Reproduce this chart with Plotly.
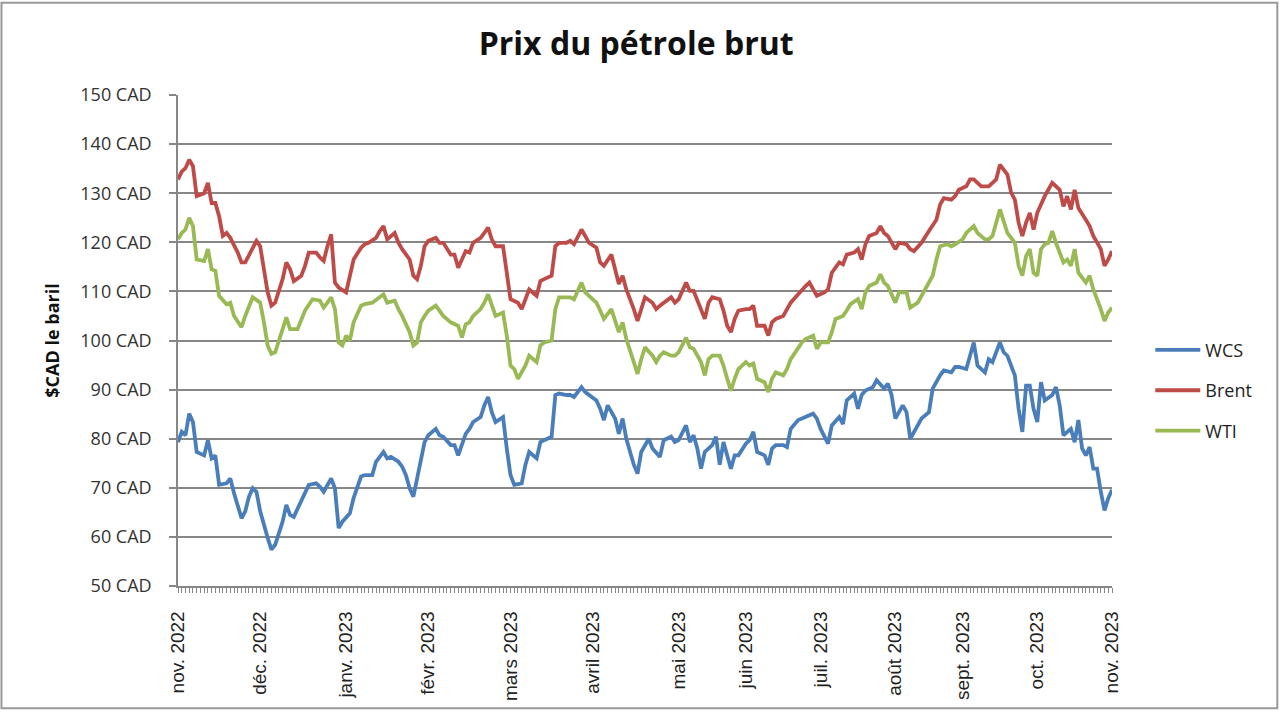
import plotly.graph_objects as go

# ---- Data (trading-day index from nov. 2022) ----
mois_pos = [0, 22, 45, 67, 89, 111, 134, 152, 172, 192, 210, 230, 250]
mois_labels = ["nov. 2022", "déc. 2022", "janv. 2023", "févr. 2023", "mars 2023",
               "avril 2023", "mai 2023", "juin 2023", "juil. 2023", "août 2023",
               "sept. 2023", "oct. 2023", "nov. 2023"]

wcs_jours = [0, 1, 2, 3, 4, 5, 7, 8, 9, 10, 11, 13, 14, 15, 17, 18, 19, 20, 21, 22, 24, 25, 26, 28, 29, 30, 31, 33, 34, 35,
             37, 38, 39, 41, 42, 43, 44, 46, 47, 49, 50, 52, 53, 55, 56, 57, 59, 60, 61, 62, 63,
             65, 66, 67, 69, 70, 71, 73, 74, 75, 77, 78, 79, 81, 82, 83, 84, 85, 87, 88, 89, 90, 92, 93, 94, 96, 97, 98,
             100, 101, 102, 104, 105, 106, 107, 108, 109, 110, 112, 113, 114, 115, 117, 118, 119, 120, 122, 123, 124, 126, 127, 129,
             130, 132, 133, 134, 136, 137, 138, 139, 140, 141, 143, 144, 145, 146, 147, 148, 149, 150, 152, 153, 154, 155, 157, 158,
             159, 160, 162, 163, 164, 166, 167, 168, 170, 171, 172, 174, 175, 177, 178, 179, 181, 182, 183, 184, 186, 187, 189, 190,
             191, 192, 194, 195, 196, 198, 199, 201, 202, 204, 205, 207, 208, 209, 211, 212, 213, 214, 216, 217, 218, 220, 221, 222,
             224, 225, 226, 227, 228, 229, 230, 231, 232, 234, 235, 236, 237, 239, 240, 241, 242, 243, 244, 245, 246, 247, 248, 249, 250]
wcs_prix = [79.3, 81.4, 80.7, 85.1, 83.4, 77.3, 76.6, 79.7, 76.0, 76.6, 70.6, 70.9, 71.9, 68.9, 63.8, 65.2, 68.2, 69.9, 69.2, 65.2,
            59.8, 57.4, 58.4, 63.1, 66.5, 64.5, 64.1, 67.2, 68.9, 70.6, 70.9, 70.2, 69.2, 71.9, 69.9, 61.8, 63.1, 64.8, 67.9, 72.3,
            72.6, 72.6, 75.3, 77.3, 76.0, 76.3, 75.3, 74.3, 72.6, 69.9, 68.2,
            76.0, 79.3, 80.7, 82.0, 80.7, 80.4, 78.7, 78.7, 76.6, 81.0, 82.0, 83.4, 84.4, 86.8, 88.5, 85.4, 83.4, 84.4, 78.0, 72.6,
            70.6, 70.9, 74.7, 77.3, 76.0, 79.3, 79.7, 80.4, 88.9, 89.2, 88.9, 88.9, 88.5, 89.5, 90.5, 89.5, 88.9, 87.8, 86.1, 83.8,
            86.8, 84.1, 81.0, 84.1, 80.0, 74.7, 72.9, 77.3, 80.0, 78.0, 76.3,
            79.7, 80.4, 79.3, 79.7, 82.7, 79.3, 80.7, 78.0, 73.9, 77.3, 78.7, 80.4, 74.7, 79.3, 76.6, 73.9, 76.6, 76.6, 79.0, 79.7,
            81.4, 77.3, 76.6, 74.7, 78.0, 78.7, 78.7, 78.3, 82.0, 83.8, 84.1, 84.4, 85.1, 84.1, 82.0, 79.0, 82.7, 84.4, 83.0, 87.8,
            89.2, 86.1, 88.9, 89.8, 90.5, 91.9, 90.2, 91.2, 88.9, 84.1, 86.8,
            85.4, 80.0, 82.7, 84.1, 85.4, 90.2, 92.9, 93.9, 93.5, 94.6, 94.6, 94.2, 96.9, 99.6, 94.9, 93.5, 96.2, 95.6, 99.6, 97.6,
            96.9, 92.9, 86.1, 81.4, 90.8, 90.8, 86.1, 83.4, 91.5, 87.8, 88.9, 90.5, 86.8, 80.7, 82.0, 79.3, 83.8, 78.0, 76.6, 78.3,
            73.9, 73.9, 69.2, 65.4, 67.9, 69.6]

brent_jours = [0, 1, 2, 3, 4, 5, 7, 8, 9, 10, 11, 12, 13, 14, 16, 17, 18, 20, 21, 22, 23, 24, 25, 26, 28, 29, 30, 31, 33, 34,
               35, 37, 38, 39, 40, 41, 42, 43, 45, 46, 47, 49, 50, 51, 53, 54, 55, 56, 58, 59, 60, 62, 63, 64, 65,
               66, 67, 69, 70, 71, 73, 74, 75, 77, 78, 79, 81, 82, 83, 84, 85, 87, 88, 89, 91, 92, 93, 94, 96, 97, 98, 100,
               101, 102, 104, 105, 106, 107, 108, 109, 110, 112, 113, 114, 116, 117, 118, 119, 120, 122, 123, 124, 125, 127, 128, 129,
               130, 132, 133, 134, 136, 137, 138, 140, 141, 142, 143, 145, 146, 147, 148, 149, 150, 152, 153, 154, 155, 157, 158, 159,
               160, 162, 163, 164, 166, 167, 168, 169, 170, 171, 173, 174, 175, 177, 178, 179, 181, 182, 183, 184, 185, 187, 188, 189,
               190, 192, 193,
               195, 196, 197, 199, 200, 201, 203, 204, 205, 207, 208, 209, 211, 212, 213, 215, 216, 217, 219, 220, 221, 222, 223, 224,
               225, 226, 227, 228, 229, 230, 232, 233, 234, 236, 237, 238, 239, 240, 241, 243, 244, 245, 247, 248, 249, 250]
brent_prix = [132.8, 134.4, 135.1, 136.8, 135.5, 129.4, 130.0, 132.1, 128.0, 128.0, 125.3, 121.3, 121.9, 120.9, 117.9, 115.9,
              115.9, 118.6, 120.3, 119.2, 114.5, 109.8, 107.1, 107.7, 112.5, 115.9, 114.5, 112.1, 113.2, 115.2, 117.9, 117.9,
              116.9, 116.2, 119.2, 121.6, 111.8, 110.8, 109.8, 113.2, 116.5, 118.9, 119.6, 119.9, 120.9, 122.3, 123.3, 120.6,
              121.9, 119.9, 118.6, 116.5, 113.2, 112.5, 115.2,
              119.2, 120.3, 120.9, 119.9, 119.9, 117.5, 117.5, 114.8, 118.2, 117.9, 119.9, 120.9, 121.9, 123.0, 120.6, 119.2,
              119.2, 113.2, 108.4, 107.7, 106.4, 108.4, 110.4, 109.1, 112.1, 112.5, 113.2, 119.2, 119.9, 119.9, 120.3, 119.6,
              121.3, 122.6, 121.3, 119.9, 118.9, 115.9, 115.2, 117.5, 114.5, 111.5, 113.2, 110.4, 106.4, 104.0, 106.4, 108.8,
              107.7, 106.4, 107.1,
              107.7, 108.8, 107.7, 108.4, 111.8, 110.1, 110.1, 106.4, 104.4, 107.7, 108.8, 108.4, 106.1, 103.0, 101.7, 104.4,
              106.1, 106.4, 106.4, 107.1, 103.0, 103.0, 101.0, 103.7, 104.4, 105.0, 106.4, 107.7, 109.4, 110.4, 111.1, 111.8,
              110.4, 109.1, 109.8, 110.4, 113.8, 115.9, 115.5, 117.5, 117.9, 118.6, 116.5, 119.6, 121.3, 121.9, 123.3, 121.9,
              121.3, 118.6, 119.9,
              119.6, 118.6, 118.2, 119.9, 121.3, 122.3, 124.6, 127.7, 129.0, 128.7, 129.4, 130.7, 131.4, 132.8, 132.8, 131.4,
              131.4, 131.4, 132.8, 135.8, 134.8, 133.8, 130.1, 128.7, 124.0, 121.3, 124.0, 126.0, 122.6, 126.0, 129.4, 130.7,
              132.1, 130.7, 127.3, 129.4, 126.7, 130.7, 127.0, 124.6, 123.3, 121.3, 118.6, 115.2, 116.5, 118.2]

wti_jours = [0, 1, 2, 3, 4, 5, 7, 8, 9, 10, 11, 13, 14, 15, 17, 18, 20, 22, 23, 24, 25, 26, 28, 29, 30, 32, 34, 35, 36, 38,
             39, 40, 41, 42, 43, 44, 45, 46, 47, 49, 50, 52, 54, 55, 56, 58, 59, 60, 62, 63, 64, 65,
             66, 67, 69, 70, 71, 73, 75, 76, 77, 78, 79, 81, 82, 83, 84, 85, 87, 88, 89, 90, 91, 93, 94, 96, 97, 98, 100,
             101, 102, 104, 105, 106, 107, 108, 109, 110, 112, 113, 114, 116, 117, 118, 119, 120, 122, 123, 124, 125, 127, 128, 129,
             130, 132, 133, 134, 136, 137, 138, 140, 141, 142, 143, 145, 146, 147, 148, 149, 150, 152, 153, 154, 155, 157, 158, 159,
             160, 162, 163, 164, 166, 167, 168, 170, 171, 172, 174, 175, 176, 178, 179, 180, 182, 183, 184, 185, 187, 188, 189, 190,
             192, 193,
             195, 196, 198, 199, 200, 202, 203, 204, 206, 207, 208, 210, 211, 213, 214, 216, 217, 218, 220, 221, 222, 224, 225, 226,
             227, 228, 229, 230, 231, 232, 233, 234, 235, 237, 238, 239, 240, 241, 243, 244, 245, 247, 248, 249, 250]
wti_prix = [120.6, 121.9, 122.6, 125.0, 123.3, 116.5, 116.2, 118.6, 114.5, 114.2, 109.1, 107.4, 107.7, 105.0, 102.7, 105.0,
            108.8, 107.7, 103.7, 99.0, 97.3, 97.6, 102.3, 104.7, 102.3, 102.3, 106.1, 107.1, 108.4, 108.1, 106.7, 107.7, 108.8,
            106.4, 99.6, 99.0, 101.0, 100.0, 103.7, 107.1, 107.4, 107.7, 108.8, 109.4, 107.7, 108.1, 106.4, 105.0, 101.7, 99.0,
            99.6, 103.7,
            105.0, 106.1, 107.1, 106.1, 105.0, 103.7, 103.0, 100.6, 103.3, 103.7, 105.0, 106.4, 107.7, 109.4, 107.1, 105.0,
            105.7, 101.0, 94.9, 94.2, 92.2, 94.9, 96.9, 95.6, 99.0, 99.6, 100.0, 106.4, 108.8, 108.8, 108.8, 108.4, 110.1,
            111.8, 109.8, 109.1, 107.7, 106.1, 104.4, 106.4, 103.7, 101.7, 103.7, 100.3, 95.6, 93.2, 96.2, 98.6, 96.9, 95.6,
            96.9,
            97.6, 96.9, 96.9, 97.6, 100.6, 98.6, 98.3, 95.6, 92.9, 96.2, 96.9, 96.9, 94.9, 92.2, 89.8, 92.2, 94.2, 95.6, 94.9,
            95.3, 92.2, 91.5, 89.5, 92.2, 93.5, 92.9, 94.2, 96.2, 98.3, 99.6, 100.3, 101.0, 98.3, 99.6, 99.6, 101.7, 104.4,
            105.0, 106.1, 107.4, 108.4, 106.4, 109.8, 111.1, 111.8, 113.5, 111.8, 111.1, 107.7, 109.8,
            109.8, 106.7, 107.7, 109.1, 110.4, 113.2, 116.5, 119.2, 119.6, 119.2, 119.6, 120.6, 121.9, 123.3, 121.9, 120.6,
            120.6, 121.3, 126.7, 124.0, 121.9, 119.9, 115.2, 113.2, 117.2, 118.6, 113.8, 113.2, 118.6, 119.6, 119.9, 122.3,
            119.9, 115.9, 116.5, 115.2, 118.6, 113.8, 111.8, 113.2, 110.4, 106.4, 104.0, 105.7, 106.7]

series = [
    ("WCS", wcs_jours, wcs_prix, "#4A7EBB"),
    ("Brent", brent_jours, brent_prix, "#BE4B48"),
    ("WTI", wti_jours, wti_prix, "#98B954"),
]

fig = go.Figure()
for nom, xs, ys, couleur in series:
    fig.add_trace(go.Scatter(x=xs, y=ys, mode="lines", name=nom, legendgroup=nom,
                             line=dict(color=couleur, width=3.8)))

gris = "#878787"
fig.update_layout(
    width=1280, height=713, autosize=False,
    margin=dict(l=178, r=168, t=95, b=125),
    paper_bgcolor="white", plot_bgcolor="white",
    title=dict(text="Prix du pétrole brut", x=0.497, xref="container", xanchor="center",
               y=0.938, yref="container", yanchor="middle",
               font=dict(family="Open Sans", size=32, weight="bold", color="#111")),
    legend=dict(x=1.041, y=0.518, xanchor="left", yanchor="top", itemwidth=45,
                font=dict(family="Open Sans", size=18, color="#222"),
                tracegroupgap=14, bgcolor="rgba(0,0,0,0)"),
    shapes=[dict(type="rect", xref="paper", yref="paper",
                 x0=-0.189, x1=1.177, y0=-0.249, y1=1.188,
                 line=dict(color="#999999", width=2), layer="below")],
)
fig.update_yaxes(range=[50, 150], tick0=50, dtick=10, ticksuffix=" CAD",
                 showgrid=True, gridcolor=gris, gridwidth=1.7,
                 showline=True, linecolor=gris, linewidth=1.5,
                 ticks="outside", ticklen=7, tickcolor=gris, tickwidth=1.5,
                 ticklabelstandoff=14, zeroline=False,
                 tickfont=dict(family="Open Sans", size=18, color="#333"),
                 title=dict(text="$CAD le baril", standoff=16,
                            font=dict(family="Open Sans", size=18, weight="bold", color="#111")))
fig.update_xaxes(range=[0, 250], tickmode="array", tickvals=mois_pos, ticktext=mois_labels,
                 tickangle=-90, showgrid=False, zeroline=False,
                 showline=True, linecolor=gris, linewidth=1.5,
                 ticks="outside", ticklen=5, tickcolor=gris,
                 minor=dict(dtick=1, tick0=0, ticks="outside", ticklen=5, tickcolor=gris, showgrid=False),
                 ticklabelstandoff=11,
                 tickfont=dict(family="Liberation Sans", size=19, color="#222"))

fig.write_html("out.html", config={"displayModeBar": False},
               post_script="document.body.style.margin='0';")
